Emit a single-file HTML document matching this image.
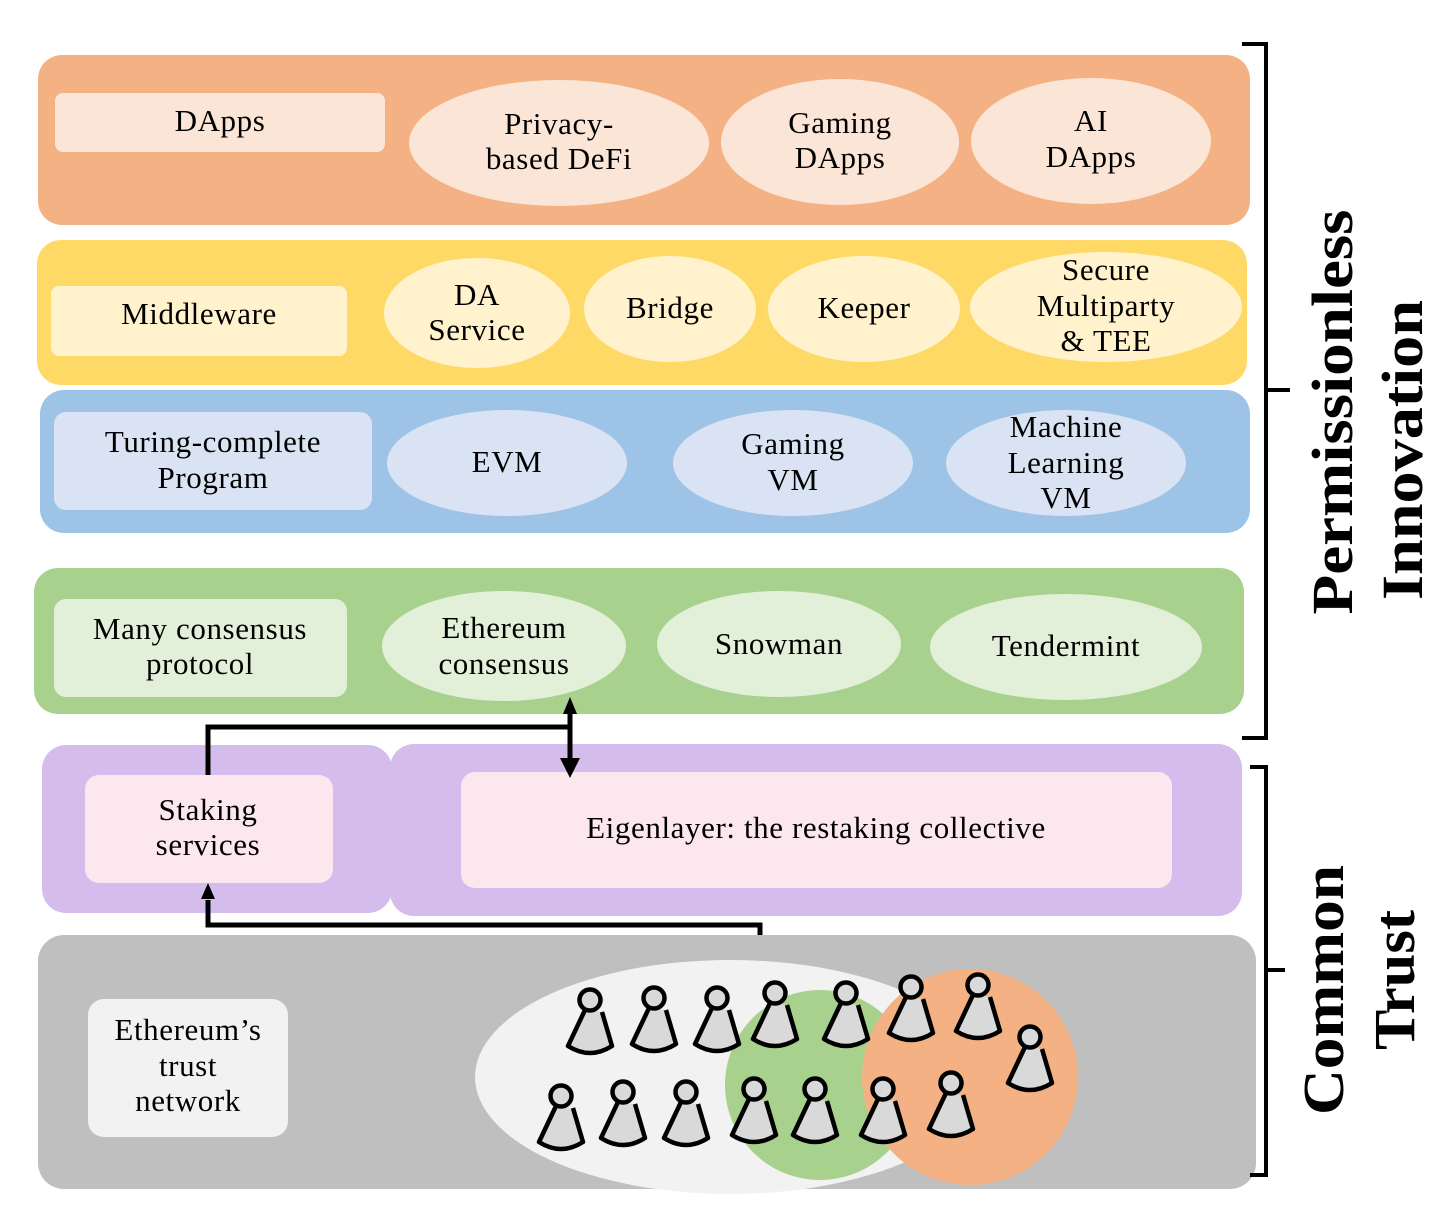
<!DOCTYPE html>
<html><head><meta charset="utf-8"><style>
html,body{margin:0;padding:0;background:#fff}
svg{display:block}
text{font-family:"Liberation Serif",serif;fill:#000}
.t{font-size:31px;text-anchor:middle;letter-spacing:0.6px}
.b{font-size:58px;font-weight:bold;text-anchor:middle}
</style></head><body>
<svg width="1456" height="1215" viewBox="0 0 1456 1215" xmlns="http://www.w3.org/2000/svg">
<defs>
<g id="p">
<path d="M-5,10 L-22,46 Q0,60 22,46 L12,12" fill="#D9D9D9" stroke="#000" stroke-width="4.5" stroke-linejoin="round"/>
<circle cx="0" cy="0" r="10.5" fill="#D9D9D9" stroke="#000" stroke-width="4.5"/>
</g>
</defs>
<!-- orange -->
<rect x="38" y="55" width="1212" height="170" rx="24" fill="#F4B183"/>
<rect x="55" y="93" width="330" height="59" rx="8" fill="#FBE5D6"/>
<text class="t" x="220" y="131">DApps</text>
<ellipse cx="559" cy="143" rx="150" ry="63" fill="#FBE5D6"/>
<text class="t" x="559" y="134">Privacy-</text><text class="t" x="559" y="169">based DeFi</text>
<ellipse cx="840" cy="142" rx="119" ry="63" fill="#FBE5D6"/>
<text class="t" x="840" y="133">Gaming</text><text class="t" x="840" y="168">DApps</text>
<ellipse cx="1091" cy="141" rx="120" ry="63" fill="#FBE5D6"/>
<text class="t" x="1091" y="131">AI</text><text class="t" x="1091" y="167">DApps</text>
<!-- yellow -->
<rect x="37" y="240" width="1210" height="145" rx="24" fill="#FFD966"/>
<rect x="51" y="286" width="296" height="70" rx="8" fill="#FFF2CC"/>
<text class="t" x="199" y="324">Middleware</text>
<ellipse cx="477" cy="313" rx="93" ry="55" fill="#FFF2CC"/>
<text class="t" x="477" y="305">DA</text><text class="t" x="477" y="340">Service</text>
<ellipse cx="670" cy="309" rx="86" ry="53" fill="#FFF2CC"/>
<text class="t" x="670" y="318">Bridge</text>
<ellipse cx="864" cy="309" rx="96" ry="53" fill="#FFF2CC"/>
<text class="t" x="864" y="318">Keeper</text>
<ellipse cx="1106" cy="307" rx="136" ry="55" fill="#FFF2CC"/>
<text class="t" x="1106" y="280">Secure</text><text class="t" x="1106" y="316">Multiparty</text><text class="t" x="1106" y="351">&amp; TEE</text>
<!-- blue -->
<rect x="40" y="390" width="1210" height="143" rx="24" fill="#9DC3E6"/>
<rect x="54" y="412" width="318" height="98" rx="12" fill="#DAE3F3"/>
<text class="t" x="213" y="452">Turing-complete</text><text class="t" x="213" y="488">Program</text>
<ellipse cx="507" cy="463" rx="120" ry="53" fill="#DAE3F3"/>
<text class="t" x="507" y="472">EVM</text>
<ellipse cx="793" cy="463" rx="120" ry="53" fill="#DAE3F3"/>
<text class="t" x="793" y="454">Gaming</text><text class="t" x="793" y="490">VM</text>
<ellipse cx="1066" cy="463" rx="120" ry="53" fill="#DAE3F3"/>
<text class="t" x="1066" y="437">Machine</text><text class="t" x="1066" y="473">Learning</text><text class="t" x="1066" y="508">VM</text>
<!-- green -->
<rect x="34" y="568" width="1210" height="146" rx="24" fill="#A9D18E"/>
<rect x="54" y="599" width="293" height="98" rx="12" fill="#E2F0D9"/>
<text class="t" x="200" y="639">Many consensus</text><text class="t" x="200" y="674">protocol</text>
<ellipse cx="504" cy="646" rx="122" ry="55" fill="#E2F0D9"/>
<text class="t" x="504" y="638">Ethereum</text><text class="t" x="504" y="674">consensus</text>
<ellipse cx="779" cy="644" rx="122" ry="53" fill="#E2F0D9"/>
<text class="t" x="779" y="654">Snowman</text>
<ellipse cx="1066" cy="647" rx="136" ry="53" fill="#E2F0D9"/>
<text class="t" x="1066" y="656">Tendermint</text>
<!-- purple -->
<rect x="42" y="745" width="350" height="168" rx="24" fill="#D4BDEC"/>
<rect x="390" y="744" width="852" height="172" rx="24" fill="#D4BDEC"/>
<rect x="85" y="775" width="248" height="108" rx="14" fill="#FDE7EF"/>
<text class="t" x="208" y="820">Staking</text><text class="t" x="208" y="855">services</text>
<rect x="461" y="772" width="711" height="116" rx="14" fill="#FDE7EF"/>
<text class="t" x="816" y="838">Eigenlayer: the restaking collective</text>
<!-- gray -->
<rect x="38" y="935" width="1218" height="254" rx="26" fill="#BFBFBF"/>
<rect x="88" y="999" width="200" height="138" rx="16" fill="#F2F2F2"/>
<text class="t" x="188" y="1040">Ethereum’s</text><text class="t" x="188" y="1076">trust</text><text class="t" x="188" y="1111">network</text>
<ellipse cx="730" cy="1077" rx="255" ry="117" fill="#F2F2F2"/>
<circle cx="820" cy="1085" r="95" fill="#A9D18E"/>
<circle cx="970" cy="1077" r="108" fill="#F4B183"/>
<use href="#p" x="590" y="1000"/><use href="#p" x="654" y="998"/><use href="#p" x="717" y="998"/>
<use href="#p" x="775" y="993"/><use href="#p" x="846" y="993"/><use href="#p" x="911" y="987"/>
<use href="#p" x="978" y="985"/><use href="#p" x="1030" y="1037"/>
<use href="#p" x="561" y="1096"/><use href="#p" x="623" y="1092"/><use href="#p" x="686" y="1092"/>
<use href="#p" x="754" y="1089"/><use href="#p" x="815" y="1089"/><use href="#p" x="883" y="1089"/>
<use href="#p" x="951" y="1083"/>
<!-- connectors -->
<g fill="none" stroke="#000" stroke-width="5">
<polyline points="208,775 208,727 570,727"/>
<line x1="570" y1="712" x2="570" y2="760"/>
<polyline points="760,935 760,925 208,925 208,900"/>
</g>
<polygon points="570,697 563,714 577,714" fill="#000"/>
<polygon points="570,778 560,758 580,758" fill="#000"/>
<polygon points="208,883 201,899 215,899" fill="#000"/>
<!-- brackets -->
<g fill="none" stroke="#000" stroke-width="4">
<polyline points="1242,44 1266,44 1266,738 1242,738"/>
<line x1="1266" y1="390" x2="1290" y2="390"/>
<polyline points="1250,767 1266,767 1266,1175 1250,1175"/>
<line x1="1266" y1="970" x2="1285" y2="970"/>
</g>
<text class="b" transform="translate(1352,412) rotate(-90)" textLength="405" lengthAdjust="spacingAndGlyphs">Permissionless</text>
<text class="b" transform="translate(1422,450) rotate(-90)" textLength="300" lengthAdjust="spacingAndGlyphs">Innovation</text>
<text class="b" transform="translate(1343,990) rotate(-90)" textLength="250" lengthAdjust="spacingAndGlyphs">Common</text>
<text class="b" transform="translate(1414,980) rotate(-90)" textLength="140" lengthAdjust="spacingAndGlyphs">Trust</text>
</svg>
</body></html>
